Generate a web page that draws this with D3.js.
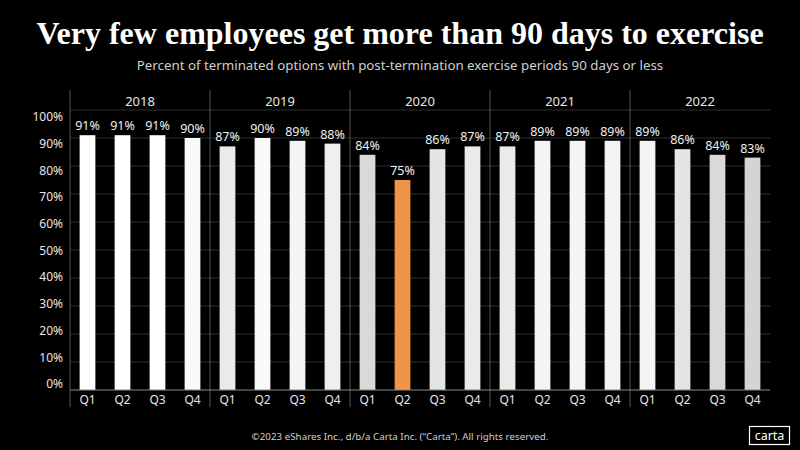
<!DOCTYPE html>
<html>
<head>
<meta charset="utf-8">
<script src="https://cdn.jsdelivr.net/npm/d3@7"></script>
<style>
  html, body { margin: 0; padding: 0; background: #000; }
  svg { display: block; font-family: "Noto Sans", sans-serif; }
  .title { font-family: "Liberation Serif", "DejaVu Serif", serif; font-weight: bold; }
</style>
</head>
<body>
<div id="chart"></div>
<script>
/* DATA */
const years = ["2018", "2019", "2020", "2021", "2022"];
const quarters = ["Q1", "Q2", "Q3", "Q4"];
const values = [
  91, 91, 91, 90,
  87, 90, 89, 88,
  84, 75, 86, 87,
  87, 89, 89, 89,
  89, 86, 84, 83
];
const highlight = "2020-Q2";
const yTicks = [0, 10, 20, 30, 40, 50, 60, 70, 80, 90, 100];

/* CONSTANTS */
const width = 800,
  height = 450,
  margin = { top: 110, bottom: 60, left: 70, right: 30 };

// one row per bar
const rows = [];
years.forEach((yr, i) => {
  quarters.forEach((q, j) => {
    rows.push({ key: `${yr}-${q}`, year: yr, quarter: q, value: values[i * 4 + j] });
  });
});

const svg = d3.select("#chart")
  .append("svg")
  .attr("width", width)
  .attr("height", height);

svg.append("rect").attr("width", width).attr("height", height).attr("fill", "#000");

// SCALES
const xScale = d3.scaleBand()
  .domain(rows.map(d => d.key))
  .range([margin.left, width - margin.right])
  .paddingInner(0.55)
  .paddingOuter(0.275);

const yearScale = d3.scaleBand()
  .domain(years)
  .range([margin.left, width - margin.right]);

const yScale = d3.scaleLinear()
  .domain([0, 100])
  .range([height - margin.bottom, margin.top]);

// labels on the left sit a little inside the gridlines
const yLabelScale = d3.scaleLinear()
  .domain([0, 100])
  .range([384, 117]);

const shade = d3.scaleLinear()
  .domain([83, 91])
  .range(["#d4d4d4", "#ffffff"])
  .clamp(true);

// GRIDLINES
svg.append("g")
  .selectAll("line")
  .data(yTicks.filter(d => d > 0))
  .join("line")
  .attr("x1", margin.left)
  .attr("x2", width - margin.right)
  .attr("y1", d => yScale(d))
  .attr("y2", d => yScale(d))
  .attr("stroke", "#2e2e2e")
  .attr("stroke-width", 1);

// year separators
svg.append("g")
  .selectAll("line")
  .data(years)
  .join("line")
  .attr("x1", d => yearScale(d))
  .attr("x2", d => yearScale(d))
  .attr("y1", 90)
  .attr("y2", 407)
  .attr("stroke", "#555")
  .attr("stroke-width", 1);

// Y LABELS
svg.append("g")
  .selectAll("text")
  .data(yTicks)
  .join("text")
  .attr("x", 63)
  .attr("y", d => yLabelScale(d))
  .attr("dy", "0.35em")
  .attr("text-anchor", "end")
  .attr("fill", "#e6e6e6")
  .attr("font-size", 12)
  .text(d => d + "%");

// YEAR LABELS
svg.append("g")
  .selectAll("text")
  .data(years)
  .join("text")
  .attr("x", d => yearScale(d) + yearScale.bandwidth() / 2)
  .attr("y", 101)
  .attr("dy", "0.35em")
  .attr("text-anchor", "middle")
  .attr("fill", "#e6e6e6")
  .attr("font-size", 13)
  .text(d => d);

// BARS
svg.append("g")
  .selectAll("rect")
  .data(rows)
  .join("rect")
  .attr("x", d => xScale(d.key))
  .attr("width", xScale.bandwidth())
  .attr("y", d => yScale(d.value))
  .attr("height", d => yScale(0) - yScale(d.value))
  .attr("fill", d => d.key === highlight ? "#f0944a" : shade(d.value));

// VALUE LABELS
svg.append("g")
  .selectAll("text")
  .data(rows)
  .join("text")
  .attr("x", d => xScale(d.key) + xScale.bandwidth() / 2)
  .attr("y", d => yScale(d.value) - 5)
  .attr("text-anchor", "middle")
  .attr("fill", "#eeeeee")
  .attr("font-size", 12.5)
  .text(d => d.value + "%");

// baseline
svg.append("line")
  .attr("x1", margin.left)
  .attr("x2", width - margin.right)
  .attr("y1", yScale(0))
  .attr("y2", yScale(0))
  .attr("stroke", "#888")
  .attr("stroke-width", 1);

// QUARTER LABELS
svg.append("g")
  .selectAll("text")
  .data(rows)
  .join("text")
  .attr("x", d => xScale(d.key) + xScale.bandwidth() / 2)
  .attr("y", 400)
  .attr("dy", "0.35em")
  .attr("text-anchor", "middle")
  .attr("fill", "#e6e6e6")
  .attr("font-size", 12)
  .text(d => d.quarter);

// TITLES
svg.append("text")
  .attr("class", "title")
  .attr("x", width / 2)
  .attr("y", 44)
  .attr("text-anchor", "middle")
  .attr("fill", "#fff")
  .attr("font-size", 32)
  .text("Very few employees get more than 90 days to exercise");

svg.append("text")
  .attr("x", width / 2)
  .attr("y", 70)
  .attr("text-anchor", "middle")
  .attr("fill", "#cfcfcf")
  .attr("font-size", 13.3)
  .text("Percent of terminated options with post-termination exercise periods 90 days or less");

// FOOTER
svg.append("text")
  .attr("x", 400)
  .attr("y", 440)
  .attr("text-anchor", "middle")
  .attr("fill", "#cfcfcf")
  .attr("font-size", 9.8)
  .text("©2023 eShares Inc., d/b/a Carta Inc. (“Carta”). All rights reserved.");

const logo = svg.append("g");
logo.append("rect")
  .attr("x", 749.5)
  .attr("y", 426.5)
  .attr("width", 40)
  .attr("height", 18)
  .attr("fill", "none")
  .attr("stroke", "#fff")
  .attr("stroke-width", 1.2);
logo.append("text")
  .attr("x", 769.5)
  .attr("y", 436)
  .attr("dy", "0.35em")
  .attr("text-anchor", "middle")
  .attr("fill", "#fff")
  .attr("font-size", 12.5)
  .text("carta");
</script>
</body>
</html>
